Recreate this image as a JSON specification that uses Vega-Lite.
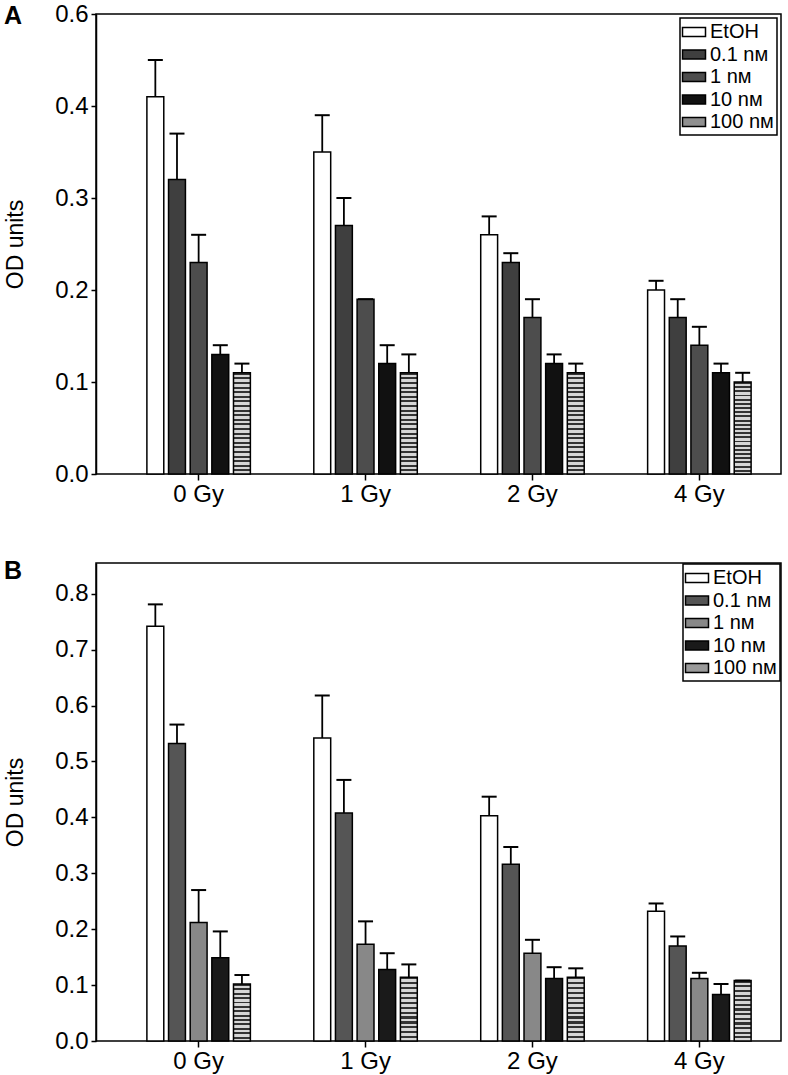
{
  "$schema": "https://vega.github.io/schema/vega-lite/v6.json",
  "padding": {"left": 3, "top": 1, "right": 6, "bottom": 0},
  "config": {
    "font": "Liberation Sans",
    "view": {"stroke": "black", "strokeWidth": 1.5},
    "axis": {"domainColor": "black", "tickColor": "black", "labelColor": "black", "titleColor": "black", "grid": false, "domainWidth": 1.5, "tickWidth": 1.5},
    "legend": {"title": null, "orient": "top-right", "offset": 4, "strokeColor": "black", "strokeWidth": 1.5, "fillColor": "white", "padding": 3, "labelFontSize": 20, "labelColor": "black", "labelOffset": 5, "symbolType": "M-1.15,-0.45H1.15V0.45H-1.15Z", "symbolSize": 400, "symbolStrokeColor": "black", "symbolStrokeWidth": 1.5, "symbolOpacity": 1, "rowPadding": 1.5},
    "concat": {"spacing": 51}
  },
  "datasets": {
    "A": [
      {"dose": "0 Gy", "conc": "EtOH", "mean": 0.41, "upper": 0.45},
      {"dose": "0 Gy", "conc": "0.1 nᴍ", "mean": 0.32, "upper": 0.37},
      {"dose": "0 Gy", "conc": "1 nᴍ", "mean": 0.23, "upper": 0.26},
      {"dose": "0 Gy", "conc": "10 nᴍ", "mean": 0.13, "upper": 0.14},
      {"dose": "0 Gy", "conc": "100 nᴍ", "mean": 0.11, "upper": 0.12},
      {"dose": "1 Gy", "conc": "EtOH", "mean": 0.35, "upper": 0.39},
      {"dose": "1 Gy", "conc": "0.1 nᴍ", "mean": 0.27, "upper": 0.30},
      {"dose": "1 Gy", "conc": "1 nᴍ", "mean": 0.19, "upper": 0.19},
      {"dose": "1 Gy", "conc": "10 nᴍ", "mean": 0.12, "upper": 0.14},
      {"dose": "1 Gy", "conc": "100 nᴍ", "mean": 0.11, "upper": 0.13},
      {"dose": "2 Gy", "conc": "EtOH", "mean": 0.26, "upper": 0.28},
      {"dose": "2 Gy", "conc": "0.1 nᴍ", "mean": 0.23, "upper": 0.24},
      {"dose": "2 Gy", "conc": "1 nᴍ", "mean": 0.17, "upper": 0.19},
      {"dose": "2 Gy", "conc": "10 nᴍ", "mean": 0.12, "upper": 0.13},
      {"dose": "2 Gy", "conc": "100 nᴍ", "mean": 0.11, "upper": 0.12},
      {"dose": "4 Gy", "conc": "EtOH", "mean": 0.20, "upper": 0.21},
      {"dose": "4 Gy", "conc": "0.1 nᴍ", "mean": 0.17, "upper": 0.19},
      {"dose": "4 Gy", "conc": "1 nᴍ", "mean": 0.14, "upper": 0.16},
      {"dose": "4 Gy", "conc": "10 nᴍ", "mean": 0.11, "upper": 0.12},
      {"dose": "4 Gy", "conc": "100 nᴍ", "mean": 0.10, "upper": 0.11}
    ],
    "B": [
      {"dose": "0 Gy", "conc": "EtOH", "mean": 0.742, "upper": 0.781},
      {"dose": "0 Gy", "conc": "0.1 nᴍ", "mean": 0.532, "upper": 0.566},
      {"dose": "0 Gy", "conc": "1 nᴍ", "mean": 0.212, "upper": 0.27},
      {"dose": "0 Gy", "conc": "10 nᴍ", "mean": 0.149, "upper": 0.196},
      {"dose": "0 Gy", "conc": "100 nᴍ", "mean": 0.102, "upper": 0.118},
      {"dose": "1 Gy", "conc": "EtOH", "mean": 0.542, "upper": 0.618},
      {"dose": "1 Gy", "conc": "0.1 nᴍ", "mean": 0.408, "upper": 0.467},
      {"dose": "1 Gy", "conc": "1 nᴍ", "mean": 0.173, "upper": 0.214},
      {"dose": "1 Gy", "conc": "10 nᴍ", "mean": 0.128, "upper": 0.157},
      {"dose": "1 Gy", "conc": "100 nᴍ", "mean": 0.114, "upper": 0.137},
      {"dose": "2 Gy", "conc": "EtOH", "mean": 0.403, "upper": 0.437},
      {"dose": "2 Gy", "conc": "0.1 nᴍ", "mean": 0.316, "upper": 0.347},
      {"dose": "2 Gy", "conc": "1 nᴍ", "mean": 0.157, "upper": 0.181},
      {"dose": "2 Gy", "conc": "10 nᴍ", "mean": 0.112, "upper": 0.132},
      {"dose": "2 Gy", "conc": "100 nᴍ", "mean": 0.114, "upper": 0.13},
      {"dose": "4 Gy", "conc": "EtOH", "mean": 0.232, "upper": 0.246},
      {"dose": "4 Gy", "conc": "0.1 nᴍ", "mean": 0.17, "upper": 0.187},
      {"dose": "4 Gy", "conc": "1 nᴍ", "mean": 0.112, "upper": 0.122},
      {"dose": "4 Gy", "conc": "10 nᴍ", "mean": 0.083, "upper": 0.102},
      {"dose": "4 Gy", "conc": "100 nᴍ", "mean": 0.108, "upper": 0.108}
    ]
  },
  "vconcat": [
    {
      "width": 685,
      "height": 460,
      "title": {"text": "A", "anchor": "start", "frame": "group", "offset": 0, "dx": -92, "dy": 27, "fontSize": 25, "fontWeight": "bold", "color": "black"},
      "data": {"name": "A"},
      "encoding": {
        "x": {"field": "dose", "type": "nominal", "sort": ["0 Gy", "1 Gy", "2 Gy", "4 Gy"], "scale": {"paddingInner": 0.38, "paddingOuter": 0.242, "align": 0.63}, "axis": {"title": null, "labelAngle": 0, "labelFontSize": 24, "tickSize": 6, "domain": false, "labelPadding": 2}},
        "xOffset": {"field": "conc", "type": "nominal", "sort": ["EtOH", "0.1 nᴍ", "1 nᴍ", "10 nᴍ", "100 nᴍ"], "scale": {"paddingInner": 0.22, "paddingOuter": 0}}
      },
      "layer": [
        {
          "mark": {"type": "bar", "stroke": "black", "strokeWidth": 1.5, "opacity": 1},
          "encoding": {
            "y": {"field": "mean", "type": "quantitative", "scale": {"domain": [0, 0.5], "nice": false}, "axis": {"values": [0, 0.1, 0.2, 0.3, 0.4, 0.5], "labelExpr": "datum.value >= 0.49 ? '0.6' : format(datum.value, '.1f')", "labelFontSize": 24, "tickSize": 5, "labelPadding": 3, "title": "OD units", "titleFontSize": 23, "titleFontWeight": "normal", "titlePadding": 27}},
            "fill": {
              "condition": {"test": "datum.conc === '100 nᴍ'", "value": {"gradient": "linear", "x1": 0, "y1": 0, "x2": 0, "y2": 1, "stops": [
                {"offset": 0, "color": "#333"}, {"offset": 0.0205, "color": "#333"}, {"offset": 0.0205, "color": "#d6d6d6"}, {"offset": 0.0455, "color": "#d6d6d6"},
                {"offset": 0.0455, "color": "#333"}, {"offset": 0.0659, "color": "#333"}, {"offset": 0.0659, "color": "#d6d6d6"}, {"offset": 0.0909, "color": "#d6d6d6"},
                {"offset": 0.0909, "color": "#333"}, {"offset": 0.1114, "color": "#333"}, {"offset": 0.1114, "color": "#d6d6d6"}, {"offset": 0.1364, "color": "#d6d6d6"},
                {"offset": 0.1364, "color": "#333"}, {"offset": 0.1568, "color": "#333"}, {"offset": 0.1568, "color": "#d6d6d6"}, {"offset": 0.1818, "color": "#d6d6d6"},
                {"offset": 0.1818, "color": "#333"}, {"offset": 0.2023, "color": "#333"}, {"offset": 0.2023, "color": "#d6d6d6"}, {"offset": 0.2273, "color": "#d6d6d6"},
                {"offset": 0.2273, "color": "#333"}, {"offset": 0.2477, "color": "#333"}, {"offset": 0.2477, "color": "#d6d6d6"}, {"offset": 0.2727, "color": "#d6d6d6"},
                {"offset": 0.2727, "color": "#333"}, {"offset": 0.2932, "color": "#333"}, {"offset": 0.2932, "color": "#d6d6d6"}, {"offset": 0.3182, "color": "#d6d6d6"},
                {"offset": 0.3182, "color": "#333"}, {"offset": 0.3386, "color": "#333"}, {"offset": 0.3386, "color": "#d6d6d6"}, {"offset": 0.3636, "color": "#d6d6d6"},
                {"offset": 0.3636, "color": "#333"}, {"offset": 0.3841, "color": "#333"}, {"offset": 0.3841, "color": "#d6d6d6"}, {"offset": 0.4091, "color": "#d6d6d6"},
                {"offset": 0.4091, "color": "#333"}, {"offset": 0.4295, "color": "#333"}, {"offset": 0.4295, "color": "#d6d6d6"}, {"offset": 0.4545, "color": "#d6d6d6"},
                {"offset": 0.4545, "color": "#333"}, {"offset": 0.475, "color": "#333"}, {"offset": 0.475, "color": "#d6d6d6"}, {"offset": 0.5, "color": "#d6d6d6"},
                {"offset": 0.5, "color": "#333"}, {"offset": 0.5205, "color": "#333"}, {"offset": 0.5205, "color": "#d6d6d6"}, {"offset": 0.5455, "color": "#d6d6d6"},
                {"offset": 0.5455, "color": "#333"}, {"offset": 0.5659, "color": "#333"}, {"offset": 0.5659, "color": "#d6d6d6"}, {"offset": 0.5909, "color": "#d6d6d6"},
                {"offset": 0.5909, "color": "#333"}, {"offset": 0.6114, "color": "#333"}, {"offset": 0.6114, "color": "#d6d6d6"}, {"offset": 0.6364, "color": "#d6d6d6"},
                {"offset": 0.6364, "color": "#333"}, {"offset": 0.6568, "color": "#333"}, {"offset": 0.6568, "color": "#d6d6d6"}, {"offset": 0.6818, "color": "#d6d6d6"},
                {"offset": 0.6818, "color": "#333"}, {"offset": 0.7023, "color": "#333"}, {"offset": 0.7023, "color": "#d6d6d6"}, {"offset": 0.7273, "color": "#d6d6d6"},
                {"offset": 0.7273, "color": "#333"}, {"offset": 0.7477, "color": "#333"}, {"offset": 0.7477, "color": "#d6d6d6"}, {"offset": 0.7727, "color": "#d6d6d6"},
                {"offset": 0.7727, "color": "#333"}, {"offset": 0.7932, "color": "#333"}, {"offset": 0.7932, "color": "#d6d6d6"}, {"offset": 0.8182, "color": "#d6d6d6"},
                {"offset": 0.8182, "color": "#333"}, {"offset": 0.8386, "color": "#333"}, {"offset": 0.8386, "color": "#d6d6d6"}, {"offset": 0.8636, "color": "#d6d6d6"},
                {"offset": 0.8636, "color": "#333"}, {"offset": 0.8841, "color": "#333"}, {"offset": 0.8841, "color": "#d6d6d6"}, {"offset": 0.9091, "color": "#d6d6d6"},
                {"offset": 0.9091, "color": "#333"}, {"offset": 0.9295, "color": "#333"}, {"offset": 0.9295, "color": "#d6d6d6"}, {"offset": 0.9545, "color": "#d6d6d6"},
                {"offset": 0.9545, "color": "#333"}, {"offset": 0.975, "color": "#333"}, {"offset": 0.975, "color": "#d6d6d6"}, {"offset": 1, "color": "#d6d6d6"}
              ]}},
              "field": "conc", "type": "nominal", "sort": ["EtOH", "0.1 nᴍ", "1 nᴍ", "10 nᴍ", "100 nᴍ"],
              "scale": {"domain": ["EtOH", "0.1 nᴍ", "1 nᴍ", "10 nᴍ", "100 nᴍ"], "range": ["#ffffff", "#3f3f3f", "#4d4d4d", "#111111", "#8f8f8f"]},
              "legend": {"offset": 4}
            }
          }
        },
        {
          "mark": {"type": "rule", "strokeWidth": 1.8, "color": "black"},
          "encoding": {"y": {"field": "mean", "type": "quantitative"}, "y2": {"field": "upper"}}
        },
        {
          "mark": {"type": "tick", "thickness": 2, "size": 15, "color": "black", "opacity": 1},
          "encoding": {"y": {"field": "upper", "type": "quantitative"}}
        }
      ]
    },
    {
      "width": 685,
      "height": 478,
      "title": {"text": "B", "anchor": "start", "frame": "group", "offset": 0, "dx": -92, "dy": 21, "fontSize": 25, "fontWeight": "bold", "color": "black"},
      "data": {"name": "B"},
      "encoding": {
        "x": {"field": "dose", "type": "nominal", "sort": ["0 Gy", "1 Gy", "2 Gy", "4 Gy"], "scale": {"paddingInner": 0.38, "paddingOuter": 0.242, "align": 0.63}, "axis": {"title": null, "labelAngle": 0, "labelFontSize": 24, "tickSize": 6, "domain": false, "labelPadding": 2}},
        "xOffset": {"field": "conc", "type": "nominal", "sort": ["EtOH", "0.1 nᴍ", "1 nᴍ", "10 nᴍ", "100 nᴍ"], "scale": {"paddingInner": 0.22, "paddingOuter": 0}}
      },
      "layer": [
        {
          "mark": {"type": "bar", "stroke": "black", "strokeWidth": 1.5, "opacity": 1},
          "encoding": {
            "y": {"field": "mean", "type": "quantitative", "scale": {"domain": [0, 0.855], "nice": false}, "axis": {"values": [0, 0.1, 0.2, 0.3, 0.4, 0.5, 0.6, 0.7, 0.8], "format": ".1f", "labelFontSize": 24, "tickSize": 5, "labelPadding": 3, "title": "OD units", "titleFontSize": 23, "titleFontWeight": "normal", "titlePadding": 27}},
            "fill": {
              "condition": {"test": "datum.conc === '100 nᴍ'", "value": {"gradient": "linear", "x1": 0, "y1": 0, "x2": 0, "y2": 1, "stops": [
                {"offset": 0, "color": "#333"}, {"offset": 0.0346, "color": "#333"}, {"offset": 0.0346, "color": "#d6d6d6"}, {"offset": 0.0769, "color": "#d6d6d6"},
                {"offset": 0.0769, "color": "#333"}, {"offset": 0.1115, "color": "#333"}, {"offset": 0.1115, "color": "#d6d6d6"}, {"offset": 0.1538, "color": "#d6d6d6"},
                {"offset": 0.1538, "color": "#333"}, {"offset": 0.1885, "color": "#333"}, {"offset": 0.1885, "color": "#d6d6d6"}, {"offset": 0.2308, "color": "#d6d6d6"},
                {"offset": 0.2308, "color": "#333"}, {"offset": 0.2654, "color": "#333"}, {"offset": 0.2654, "color": "#d6d6d6"}, {"offset": 0.3077, "color": "#d6d6d6"},
                {"offset": 0.3077, "color": "#333"}, {"offset": 0.3423, "color": "#333"}, {"offset": 0.3423, "color": "#d6d6d6"}, {"offset": 0.3846, "color": "#d6d6d6"},
                {"offset": 0.3846, "color": "#333"}, {"offset": 0.4192, "color": "#333"}, {"offset": 0.4192, "color": "#d6d6d6"}, {"offset": 0.4615, "color": "#d6d6d6"},
                {"offset": 0.4615, "color": "#333"}, {"offset": 0.4962, "color": "#333"}, {"offset": 0.4962, "color": "#d6d6d6"}, {"offset": 0.5385, "color": "#d6d6d6"},
                {"offset": 0.5385, "color": "#333"}, {"offset": 0.5731, "color": "#333"}, {"offset": 0.5731, "color": "#d6d6d6"}, {"offset": 0.6154, "color": "#d6d6d6"},
                {"offset": 0.6154, "color": "#333"}, {"offset": 0.65, "color": "#333"}, {"offset": 0.65, "color": "#d6d6d6"}, {"offset": 0.6923, "color": "#d6d6d6"},
                {"offset": 0.6923, "color": "#333"}, {"offset": 0.7269, "color": "#333"}, {"offset": 0.7269, "color": "#d6d6d6"}, {"offset": 0.7692, "color": "#d6d6d6"},
                {"offset": 0.7692, "color": "#333"}, {"offset": 0.8038, "color": "#333"}, {"offset": 0.8038, "color": "#d6d6d6"}, {"offset": 0.8462, "color": "#d6d6d6"},
                {"offset": 0.8462, "color": "#333"}, {"offset": 0.8808, "color": "#333"}, {"offset": 0.8808, "color": "#d6d6d6"}, {"offset": 0.9231, "color": "#d6d6d6"},
                {"offset": 0.9231, "color": "#333"}, {"offset": 0.9577, "color": "#333"}, {"offset": 0.9577, "color": "#d6d6d6"}, {"offset": 1, "color": "#d6d6d6"}
              ]}},
              "field": "conc", "type": "nominal", "sort": ["EtOH", "0.1 nᴍ", "1 nᴍ", "10 nᴍ", "100 nᴍ"],
              "scale": {"domain": ["EtOH", "0.1 nᴍ", "1 nᴍ", "10 nᴍ", "100 nᴍ"], "range": ["#ffffff", "#555555", "#888888", "#1a1a1a", "#9a9a9a"]},
              "legend": {"offset": 1}
            }
          }
        },
        {
          "mark": {"type": "rule", "strokeWidth": 1.8, "color": "black"},
          "encoding": {"y": {"field": "mean", "type": "quantitative"}, "y2": {"field": "upper"}}
        },
        {
          "mark": {"type": "tick", "thickness": 2, "size": 15, "color": "black", "opacity": 1},
          "encoding": {"y": {"field": "upper", "type": "quantitative"}}
        }
      ]
    }
  ],
  "resolve": {"scale": {"fill": "independent", "y": "independent"}, "legend": {"fill": "independent"}}
}
